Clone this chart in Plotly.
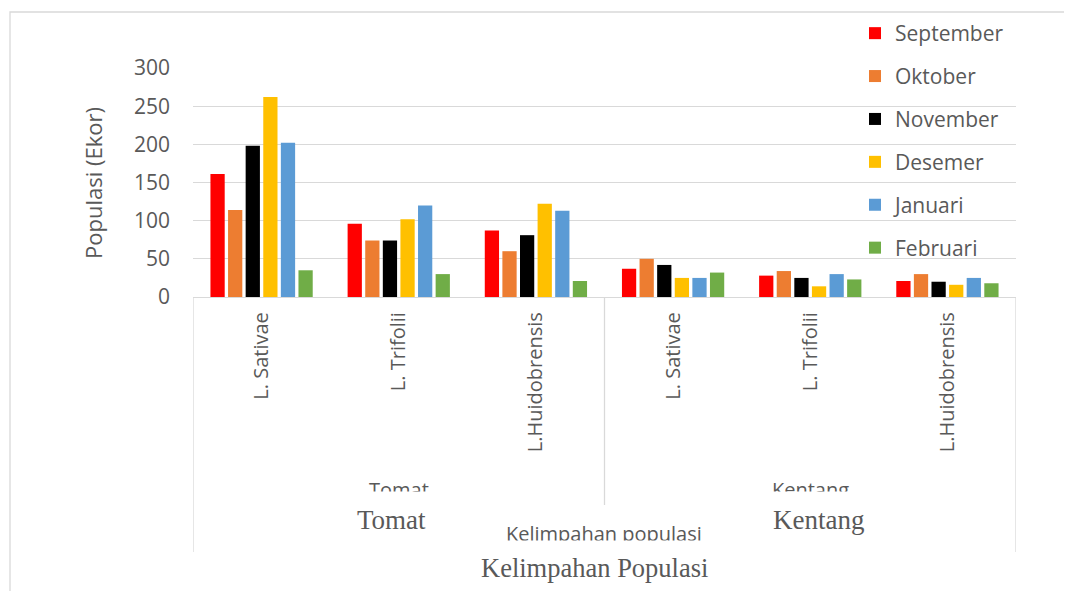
import plotly.graph_objects as go

crops = ["Tomat", "Kentang"]
species = ["L. Sativae", "L. Trifolii", "L.Huidobrensis"]
months = ["September", "Oktober", "November", "Desemer", "Januari", "Februari"]
colors = ["#FF0000", "#ED7D31", "#000000", "#FFC000", "#5B9BD5", "#70AD47"]

# values per month, order: Tomat (Sativae, Trifolii, Huidobrensis), Kentang (same)
september = [161, 96, 87, 37, 28, 21]
oktober = [114, 74, 60, 50, 34, 30]
november = [198, 74, 81, 42, 25, 20]
desemer = [262, 102, 122, 25, 14, 16]
januari = [202, 120, 113, 25, 30, 25]
februari = [35, 30, 21, 32, 23, 18]
series = [september, oktober, november, desemer, januari, februari]

y_ticks = [0, 50, 100, 150, 200, 250, 300]

cat_labels = [s for c in crops for s in species]
xpos = list(range(len(cat_labels)))

# page has an 8px body margin; figure is drawn from (8, 8)
OFF = 8
W, H = 1072 - OFF, 591 - OFF
# plot area in reference-pixel coordinates
L, R, T, B = 193, 1016, 68, 297
pw, ph = R - L, B - T

def px_x(px):
    return (px - L) / pw

def px_y(py):
    return (B - py) / ph

TXT = "#595959"
GRID = "#d9d9d9"
SANS = "Open Sans"
SERIF = "Liberation Serif"

fig = go.Figure()
for i, (m, vals) in enumerate(zip(months, series)):
    fig.add_trace(go.Bar(
        x=xpos, y=vals, name=m, marker=dict(color=colors[i], line=dict(width=0)),
        legendgroup=m,
    ))

n_sp = len(species)
group_centers = [g * n_sp + (n_sp - 1) / 2 for g in range(len(crops))]
boundaries = [-0.5] + [g * n_sp + n_sp - 0.5 for g in range(len(crops))]

shapes = []
# outer border
shapes.append(dict(type="rect", xref="paper", yref="paper",
                   x0=px_x(10), x1=px_x(1085), y0=px_y(605), y1=px_y(12),
                   line=dict(color=GRID, width=1.3), fillcolor="rgba(0,0,0,0)", layer="below"))
# axis box verticals
for j, b in enumerate(boundaries):
    bottom = 552 if j in (0, len(boundaries) - 1) else 505
    shapes.append(dict(type="line", xref="x", yref="paper", x0=b, x1=b,
                       y0=px_y(297), y1=px_y(bottom), line=dict(color=GRID, width=1.3)))

annotations = []
# y axis title
annotations.append(dict(text="Populasi (Ekor)", xref="paper", yref="paper",
                        x=px_x(93), y=px_y(183), xanchor="center", yanchor="middle",
                        textangle=-90, showarrow=False,
                        font=dict(family=SANS, size=22, color=TXT)))
# small clipped group labels
for c, gc in zip(crops, group_centers):
    annotations.append(dict(text=c, xref="x", yref="paper", x=gc, y=px_y(474),
                            xanchor="center", yanchor="top", showarrow=False,
                            font=dict(family=SANS, size=20, color=TXT)))
annotations.append(dict(text="Kelimpahan populasi", xref="paper", yref="paper",
                        x=px_x(604), y=px_y(518), xanchor="center", yanchor="top",
                        showarrow=False, font=dict(family=SANS, size=20, color=TXT)))
# white covers to clip them
for gc in group_centers:
    annotations.append(dict(text=" ", xref="x", yref="paper", x=gc, y=px_y(491),
                            xanchor="center", yanchor="top", showarrow=False,
                            width=130, height=18, bgcolor="white", borderpad=0))
annotations.append(dict(text=" ", xref="paper", yref="paper", x=px_x(604), y=px_y(540),
                        xanchor="center", yanchor="top", showarrow=False,
                        width=230, height=12, bgcolor="white", borderpad=0))
# large serif labels
serif_shift = [-7, 8]
for c, gc, sh in zip(crops, group_centers, serif_shift):
    annotations.append(dict(text=c, xref="x", yref="paper", x=gc, xshift=sh, y=px_y(520),
                            xanchor="center", yanchor="middle", showarrow=False,
                            font=dict(family=SERIF, size=27, color=TXT)))
annotations.append(dict(text="Kelimpahan Populasi", xref="paper", yref="paper",
                        x=px_x(594), y=px_y(568), xanchor="center", yanchor="middle",
                        showarrow=False, font=dict(family=SERIF, size=26.5, color=TXT)))

fig.update_layout(
    width=W, height=H,
    margin=dict(l=L - OFF, r=W - (R - OFF), t=T - OFF, b=H - (B - OFF), pad=0,
                autoexpand=False),
    paper_bgcolor="white", plot_bgcolor="white",
    barmode="group", bargap=0.23, bargroupgap=0.19,
    showlegend=True,
    legend=dict(x=px_x(855), y=px_y(13), xanchor="left", yanchor="top",
                bgcolor="rgba(0,0,0,0)", font=dict(family=SANS, size=21, color=TXT),
                traceorder="grouped", tracegroupgap=12.6),
    shapes=shapes, annotations=annotations,
    xaxis=dict(range=[-0.5, len(cat_labels) - 0.5], tickvals=xpos, ticktext=cat_labels,
               tickangle=-90, showgrid=False, zeroline=False, showline=True,
               linecolor=GRID, linewidth=1.3, ticks="", automargin=False,
               ticklabelstandoff=6,
               tickfont=dict(family=SANS, size=20, color=TXT)),
    yaxis=dict(range=[0, 300], tickvals=y_ticks, showgrid=True, gridcolor=GRID,
               gridwidth=1.3, zeroline=False, showline=False, ticks="",
               automargin=False, ticklabelstandoff=22,
               tickfont=dict(family=SANS, size=21, color=TXT)),
)

fig.write_html("out.html")
